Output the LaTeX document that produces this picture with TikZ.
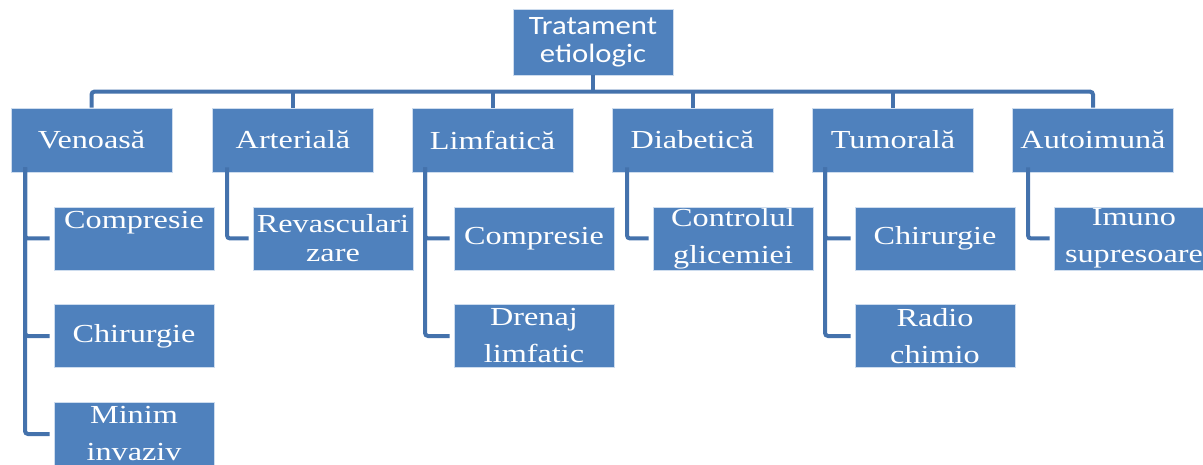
\documentclass[tikz,border=0pt]{standalone}
\usepackage{fontspec}
\newfontfamily\boxfont[FakeStretch=1.24]{Liberation Serif}
\newfontfamily\topfont[FakeStretch=1.16]{Carlito}
\definecolor{boxblue}{RGB}{79,129,189}
\definecolor{boxedge}{RGB}{205,220,238}
\definecolor{linkblue}{RGB}{68,114,172}
\tikzset{
  basebox/.style={rectangle, fill=boxblue, draw=boxedge, line width=0.8pt, inner sep=0pt, text=white, align=center},
  topbox/.style={basebox, minimum width=160pt, minimum height=66pt, font=\topfont\fontsize{26.5}{28}\selectfont},
  catbox/.style={basebox, minimum width=161pt, minimum height=64pt, font=\boxfont\fontsize{26}{30}\selectfont},
  subbox/.style={basebox, minimum width=160pt, minimum height=63pt, font=\boxfont\fontsize{26}{37}\selectfont},
  tightbox/.style={subbox, font=\boxfont\fontsize{26}{29}\selectfont},
  conn/.style={draw=linkblue, line width=4pt, rounded corners=3pt},
  branch/.style={conn, shorten >=4pt}
}
\begin{document}
\begin{tikzpicture}[x=1pt,y=-1pt]
\useasboundingbox (0,0) rectangle (1203,465);
\clip (0,0) rectangle (1203,465);
% top
\node[topbox] (top) at (593,42) {Tratament\\etiologic};
% level 1
\node[catbox] (ven) at (91.5,140) {Venoasă};
\node[catbox] (art) at (293,140) {Arterială};
\node[catbox] (lim) at (492.5,140) {Limfatică};
\node[catbox] (dia) at (692.5,140) {Diabetică};
\node[catbox] (tum) at (893,140) {Tumorală};
\node[catbox] (aut) at (1093,140) {Autoimună};
% level 2
\node[subbox] (vc) at (134,238.5) {Compresie\\~};
\node[subbox] (vh) at (134,336) {Chirurgie};
\node[subbox] (vm) at (134,434) {Minim\\invaziv};
\node[tightbox] (ar) at (333,238.5) {Revasculari\\zare};
\node[subbox] (lc) at (534,238.5) {Compresie};
\node[subbox] (ld) at (534,336) {Drenaj\\limfatic};
\node[subbox] (dc) at (733,238.5) {Controlul\\glicemiei};
\node[subbox] (tc) at (935,238.5) {Chirurgie};
\node[subbox] (tr) at (935,336) {Radio\\chimio};
\node[subbox] (ai) at (1134,238.5) {Imuno\\supresoare};
% bus
\draw[conn] (top.south) -- ++(0,17);
\draw[conn] (ven.north) -- ++(0,-16) -| (aut.north);
\foreach \n in {art,lim,dia,tum}{
  \draw[conn] (\n.north) -- ++(0,-16);
}
% children
\draw[branch] ([xshift=-66.5pt,yshift=5pt]ven.south) |- (vc.west);
\draw[branch] ([xshift=-66.5pt,yshift=5pt]ven.south) |- (vh.west);
\draw[branch] ([xshift=-66.5pt,yshift=5pt]ven.south) |- (vm.west);
\draw[branch] ([xshift=-66pt,yshift=5pt]art.south) |- (ar.west);
\draw[branch] ([xshift=-67.5pt,yshift=5pt]lim.south) |- (lc.west);
\draw[branch] ([xshift=-67.5pt,yshift=5pt]lim.south) |- (ld.west);
\draw[branch] ([xshift=-65.5pt,yshift=5pt]dia.south) |- (dc.west);
\draw[branch] ([xshift=-68pt,yshift=5pt]tum.south) |- (tc.west);
\draw[branch] ([xshift=-68pt,yshift=5pt]tum.south) |- (tr.west);
\draw[branch] ([xshift=-65pt,yshift=5pt]aut.south) |- (ai.west);
\end{tikzpicture}
\end{document}
